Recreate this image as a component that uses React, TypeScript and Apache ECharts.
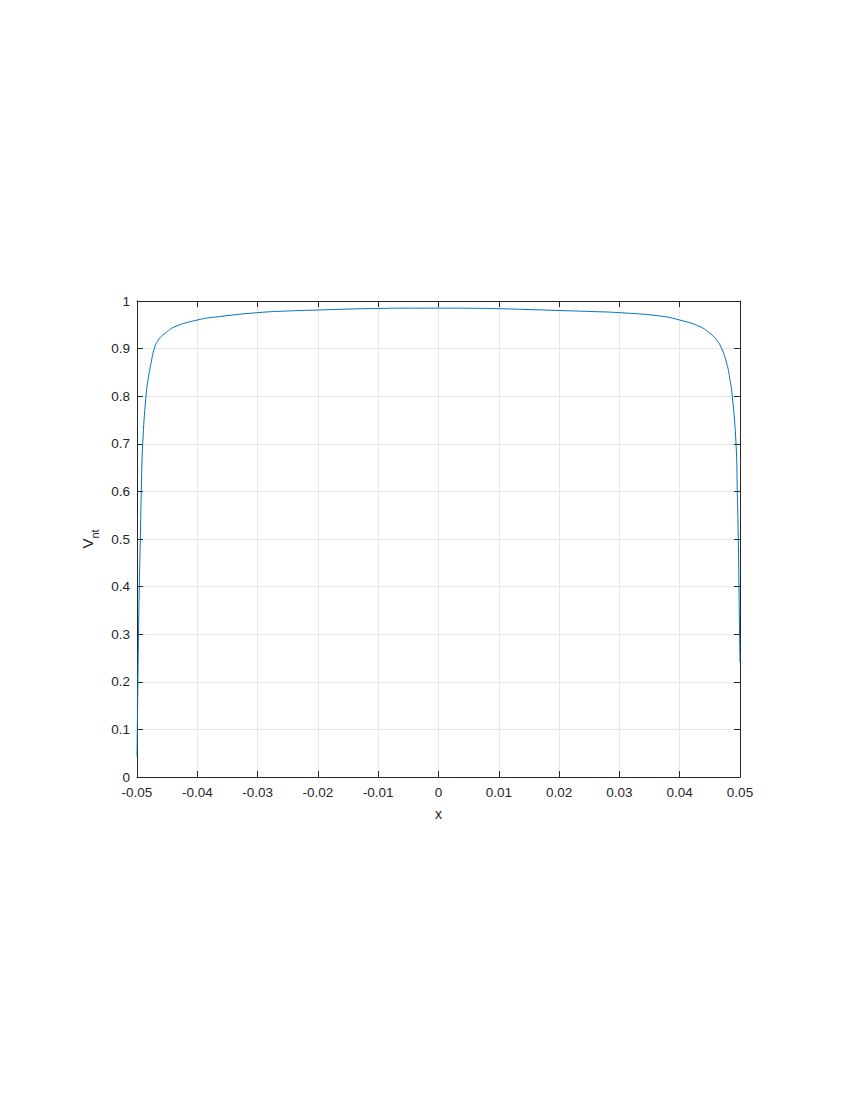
import React, { useEffect, useRef } from "react";
import * as echarts from "echarts";

const xValues = [
  -0.05, -0.0499, -0.04975, -0.04962, -0.04945, -0.04929, -0.04905, -0.04851, -0.0481, -0.04768,
  -0.04713, -0.04647, -0.04536, -0.0437, -0.04, -0.0365, -0.03, -0.025, -0.02, -0.015, -0.01, -0.005, 0,
  0.005, 0.01, 0.015, 0.02, 0.025, 0.03, 0.0367, 0.04, 0.04337, 0.04502, 0.04613, 0.04697, 0.0478,
  0.0483, 0.04872, 0.04934, 0.04955, 0.04972, 0.04983, 0.04993, 0.05,
];
const yValues = [
  0.043, 0.15, 0.3, 0.4, 0.5, 0.6, 0.7, 0.8, 0.84, 0.869,
  0.9, 0.918, 0.932, 0.946, 0.96, 0.967, 0.9755, 0.979, 0.981, 0.983, 0.9843, 0.985, 0.985,
  0.9848, 0.9838, 0.982, 0.98, 0.978, 0.9755, 0.9685, 0.96, 0.946, 0.932, 0.918, 0.9, 0.869,
  0.838, 0.8, 0.7, 0.6, 0.5, 0.4, 0.3, 0.24,
];
const xTicks = [-0.05, -0.04, -0.03, -0.02, -0.01, 0, 0.01, 0.02, 0.03, 0.04, 0.05];
const yTicks = [0, 0.1, 0.2, 0.3, 0.4, 0.5, 0.6, 0.7, 0.8, 0.9, 1];

const axisColor = "#262626";
const font = "Liberation Sans, Arial, Helvetica, sans-serif";

export default function App() {
  const ref = useRef<HTMLDivElement>(null);
  useEffect(() => {
    document.body.style.margin = "0";
    if (!ref.current) return;
    const chart = echarts.init(ref.current, undefined, { renderer: "svg" });
    const fmt = (v: number) => String(Number(v.toFixed(2)));
    const baseX = {
      type: "value" as const,
      min: xTicks[0],
      max: xTicks[xTicks.length - 1],
      interval: 0.01,
      axisLine: { show: true, onZero: false, lineStyle: { color: axisColor, width: 1 } },
      axisTick: { show: true, inside: true, length: 6, lineStyle: { color: axisColor } },
    };
    const baseY = {
      type: "value" as const,
      min: yTicks[0],
      max: yTicks[yTicks.length - 1],
      interval: 0.1,
      axisLine: { show: true, onZero: false, lineStyle: { color: axisColor, width: 1 } },
      axisTick: { show: true, inside: true, length: 6, lineStyle: { color: axisColor } },
    };
    chart.setOption({
      animation: false,
      backgroundColor: "#ffffff",
      textStyle: { fontFamily: font },
      grid: { left: 137, right: 110, top: 301, bottom: 323, containLabel: false },
      xAxis: [
        {
          ...baseX,
          position: "bottom",
          name: "x",
          nameLocation: "middle",
          nameGap: 30,
          nameTextStyle: { color: axisColor, fontSize: 14, fontFamily: font },
          axisLabel: { color: axisColor, fontSize: 13.5, fontFamily: font, margin: 8, formatter: fmt },
          splitLine: { show: true, lineStyle: { color: "#e6e6e6", width: 1 } },
        },
        {
          ...baseX,
          position: "top",
          axisLabel: { show: false },
          splitLine: { show: false },
        },
      ],
      yAxis: [
        {
          ...baseY,
          position: "left",
          name: "{a|V}{b|nt}",
          nameLocation: "middle",
          nameGap: 36,
          nameRotate: 90,
          nameTextStyle: {
            color: axisColor,
            fontFamily: font,
            rich: {
              a: { fontSize: 15, color: axisColor, fontFamily: font, lineHeight: 20, verticalAlign: "bottom" },
              b: { fontSize: 11, color: axisColor, fontFamily: font, lineHeight: 20, verticalAlign: "bottom", padding: [0, 0, -5, 0] },
            },
          },
          axisLabel: { color: axisColor, fontSize: 13.5, fontFamily: font, margin: 7, formatter: fmt },
          splitLine: { show: true, lineStyle: { color: "#e6e6e6", width: 1 } },
        },
        {
          ...baseY,
          position: "right",
          axisLabel: { show: false },
          splitLine: { show: false },
        },
      ],
      series: [
        {
          type: "line",
          xAxisIndex: 0,
          yAxisIndex: 0,
          data: xValues.map((x, i) => [x, yValues[i]]),
          showSymbol: false,
          smooth: 0.5,
          lineStyle: { color: "#0072BD", width: 1 },
          itemStyle: { color: "#0072BD" },
          clip: true,
        },
      ],
    });
    return () => chart.dispose();
  }, []);
  return <div ref={ref} style={{ width: 850, height: 1100 }} />;
}
